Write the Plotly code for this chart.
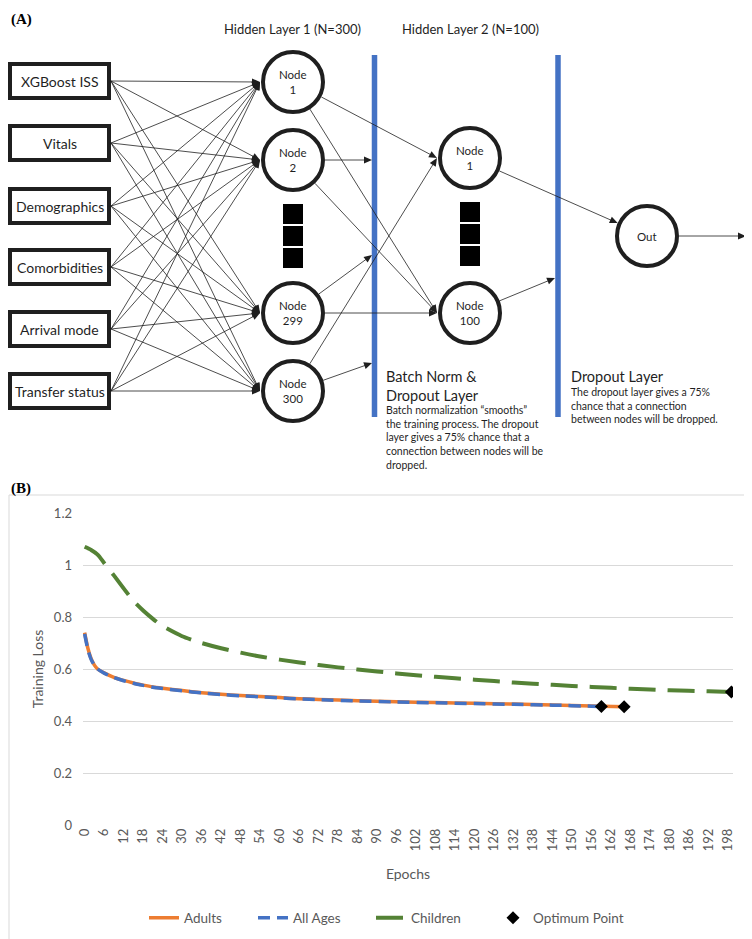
import math
import plotly.graph_objects as go

W, H = 752, 939
OFF = 8  # the page body has an 8px margin, so the figure is shifted by that much
FW, FH = W - OFF, H - OFF

# ---- panel B data ----
adult_epochs = [0, 1, 2, 3, 4, 6, 9, 12, 15, 18, 21, 24, 30, 36, 42, 48, 54, 60, 66, 72, 84, 96, 108, 120, 132, 144, 156, 166]
adult_loss = [0.74, 0.68, 0.64, 0.615, 0.60, 0.585, 0.568, 0.556, 0.546, 0.538, 0.531, 0.526, 0.517, 0.509,
              0.503, 0.498, 0.494, 0.490, 0.486, 0.483, 0.478, 0.474, 0.471, 0.468, 0.465, 0.462, 0.458, 0.455]

allages_epochs = [0, 1, 2, 3, 4, 6, 9, 12, 15, 18, 21, 24, 30, 36, 42, 48, 54, 60, 66, 72, 84, 96, 108, 120, 132, 144, 156, 159]
allages_loss = [0.735, 0.675, 0.637, 0.614, 0.60, 0.584, 0.567, 0.555, 0.545, 0.537, 0.530, 0.525, 0.516, 0.508,
                0.502, 0.497, 0.493, 0.489, 0.485, 0.482, 0.477, 0.473, 0.470, 0.467, 0.464, 0.461, 0.457, 0.456]

child_epochs = [0, 2, 4, 6, 9, 12, 15, 18, 21, 24, 30, 36, 42, 48, 54, 60, 72, 84, 96, 108, 120, 132, 144, 156, 168, 180, 192, 199]
child_loss = [1.07, 1.058, 1.04, 1.008, 0.96, 0.91, 0.862, 0.825, 0.793, 0.765, 0.726, 0.700, 0.680, 0.663,
              0.648, 0.636, 0.615, 0.598, 0.583, 0.570, 0.559, 0.548, 0.539, 0.531, 0.524, 0.518, 0.514, 0.512]

opt_epochs = [159, 166, 199]
opt_loss = [0.456, 0.455, 0.512]

x_ticks = list(range(0, 199, 6))
y_ticks = [0, 0.2, 0.4, 0.6, 0.8, 1.0, 1.2]

# ---- panel A diagram ----
input_labels = ["XGBoost ISS", "Vitals", "Demographics", "Comorbidities", "Arrival mode", "Transfer status"]
input_y = [81, 143, 206, 267, 329, 391]
h1_labels = ["1", "2", "299", "300"]
h1_y = [82, 160, 313, 391]
h2_labels = ["1", "100"]
h2_y = [158, 313]

H1_X, H2_X = 293, 470
OUT_X, OUT_Y = 647, 236
R = 30
BLUE = "#4472C4"
INK = "#1f1f1f"
GRAY = "#595959"
FONT = "Lato"

lines, circles, heads, others = [], [], [], []


def seg(x0, y0, x1, y1, w=0.8):
    lines.append(dict(type="line", xref="x2", yref="y2", x0=x0, y0=y0, x1=x1, y1=y1,
                      line=dict(color=INK, width=w)))


def arrow(x0, y0, x1, y1, L=8, Wd=7):
    d = math.hypot(x1 - x0, y1 - y0)
    ux, uy = (x1 - x0) / d, (y1 - y0) / d
    nx, ny = -uy, ux
    seg(x0, y0, x1 - ux * L * 0.6, y1 - uy * L * 0.6)
    bx, by = x1 - ux * L, y1 - uy * L
    p = "M {:.2f},{:.2f} L {:.2f},{:.2f} L {:.2f},{:.2f} Z".format(
        x1, y1, bx + nx * Wd / 2, by + ny * Wd / 2, bx - nx * Wd / 2, by - ny * Wd / 2)
    heads.append(dict(type="path", xref="x2", yref="y2", path=p, fillcolor=INK, line=dict(width=0)))


def edge(cx, cy, tx, ty, r=R + 2):
    d = math.hypot(tx - cx, ty - cy)
    return cx + (tx - cx) / d * r, cy + (ty - cy) / d * r


def circle(cx, cy, r=R):
    circles.append(dict(type="circle", xref="x2", yref="y2", x0=cx - r, x1=cx + r, y0=cy - r, y1=cy + r,
                        line=dict(color=INK, width=4), fillcolor="white"))


# inputs -> hidden layer 1
for iy in input_y:
    for hy in h1_y:
        arrow(111, iy, H1_X - R - 3, hy)

# hidden layer 1 -> hidden layer 2 / batch norm line
h1_links = [(0, ("h2", 0)), (0, ("h2", 1)), (1, ("bl", 160)), (1, ("h2", 1)),
            (2, ("bl", 255)), (2, ("h2", 1)), (3, ("bl", 363)), (3, ("h2", 0))]
for i, (kind, val) in h1_links:
    if kind == "h2":
        tx, ty = H2_X - R - 3, h2_y[val]
    else:
        tx, ty = 372, val
    sx, sy = edge(H1_X, h1_y[i], tx, ty)
    arrow(sx, sy, tx, ty)

# hidden layer 2 -> out / dropout line
sx, sy = edge(H2_X, h2_y[0], OUT_X, OUT_Y)
ex, ey = edge(OUT_X, OUT_Y, H2_X, h2_y[0])
arrow(sx, sy, ex, ey)
sx, sy = edge(H2_X, h2_y[1], 555, 278)
arrow(sx, sy, 555, 278)
arrow(OUT_X + R + 2, OUT_Y, 746, OUT_Y)

for hy in h1_y:
    circle(H1_X, hy)
for hy in h2_y:
    circle(H2_X, hy)
circle(OUT_X, OUT_Y)

for iy in input_y:
    others.append(dict(type="rect", xref="x2", yref="y2", x0=10, x1=109, y0=iy - 17, y1=iy + 17,
                       line=dict(color=INK, width=4), fillcolor="white"))

for cx, tops in [(H1_X, [204, 226, 248]), (H2_X, [202, 224, 246])]:
    for t in tops:
        others.append(dict(type="rect", xref="x2", yref="y2", x0=cx - 10, x1=cx + 10, y0=t, y1=t + 20,
                           fillcolor="black", line=dict(width=0)))

for bx, bw in [(374.5, 5.5), (558, 5.5)]:
    others.append(dict(type="line", xref="x2", yref="y2", x0=bx, x1=bx, y0=55, y1=417,
                       line=dict(color=BLUE, width=bw)))

# chart border for panel B
others.append(dict(type="rect", xref="x2", yref="y2", x0=9, x1=749, y0=495, y1=945,
                   line=dict(color="#d9d9d9", width=1), fillcolor="rgba(0,0,0,0)"))

shapes = others[:-1] + lines + circles + heads + [others[-1]]

ann = []


def text(x, y, s, size, color=INK, xanchor="center", yanchor="middle", align="center", family=FONT):
    ann.append(dict(xref="x2", yref="y2", x=x, y=y, text=s, showarrow=False, xanchor=xanchor,
                    yanchor=yanchor, align=align, font=dict(family=family, size=size, color=color)))


for lab, iy in zip(input_labels, input_y):
    text(59.5, iy, lab, 14)
for lab, hy in zip(h1_labels, h1_y):
    text(H1_X, hy, "Node<br>" + lab, 11.5)
for lab, hy in zip(h2_labels, h2_y):
    text(H2_X, hy, "Node<br>" + lab, 11.5)
text(OUT_X, OUT_Y, "Out", 11.5)
text(292, 29, "Hidden Layer 1 (N=300)", 13)
text(470, 29, "Hidden Layer 2 (N=100)", 13)
text(384, 366, "Batch Norm &amp;<br>Dropout Layer", 14.5, xanchor="left", yanchor="top", align="left")
text(384, 402, "Batch normalization “smooths”<br>the training process. The dropout<br>"
     "layer gives a 75% chance that a<br>connection between nodes will be<br>dropped.",
     10.5, xanchor="left", yanchor="top", align="left")
text(569, 366, "Dropout Layer", 14.5, xanchor="left", yanchor="top", align="left")
text(569, 384, "The dropout layer gives a 75%<br>chance that a connection<br>between nodes will be dropped.",
     10.5, xanchor="left", yanchor="top", align="left")
text(8.5, 8.5, "<b>(A)</b>", 15, color="black", xanchor="left", yanchor="top", family="Liberation Serif")
text(8.5, 488, "<b>(B)</b>", 15, color="black", xanchor="left", family="Liberation Serif")

fig = go.Figure()

fig.add_trace(go.Scatter(x=adult_epochs, y=adult_loss, name="Adults", mode="lines", legend="legend",
                         line=dict(color="#ED7D31", width=3.5, shape="spline", smoothing=0.6)))
fig.add_trace(go.Scatter(x=allages_epochs, y=allages_loss, name="All Ages", mode="lines", legend="legend2",
                         line=dict(color=BLUE, width=3.5, dash="12px,7px", shape="spline", smoothing=0.6)))
fig.add_trace(go.Scatter(x=child_epochs, y=child_loss, name="Children", mode="lines", legend="legend3",
                         line=dict(color="#548235", width=4, dash="27px,12px", shape="spline", smoothing=0.6)))
fig.add_trace(go.Scatter(x=opt_epochs, y=opt_loss, name="Optimum Point", mode="markers", legend="legend4",
                         marker=dict(symbol="diamond", color="black", size=10)))
fig.add_trace(go.Scatter(x=[20], y=[20], xaxis="x2", yaxis="y2", mode="markers",
                         marker=dict(opacity=0), showlegend=False, hoverinfo="skip"))


def px_x(p):
    return (p - OFF) / FW


def px_y(p):
    return 1 - (p - OFF) / FH


def leg(text_start):
    return dict(orientation="h", x=px_x(text_start - 40), xanchor="left", y=px_y(918), yanchor="middle",
                font=dict(size=13.5, color=GRAY), bgcolor="rgba(0,0,0,0)")


fig.update_layout(
    width=FW, height=FH,
    margin=dict(l=0, r=0, t=0, b=0, autoexpand=False),
    paper_bgcolor="white", plot_bgcolor="rgba(0,0,0,0)",
    font=dict(family=FONT, color=GRAY),
    xaxis=dict(domain=[px_x(83), px_x(733)], range=[-0.5, 199.5], tickvals=x_ticks, tickangle=-90,
               showgrid=False, zeroline=False, showline=False, ticks="",
               tickfont=dict(size=13, color=GRAY),
               title=dict(text="Epochs", font=dict(size=14, color=GRAY), standoff=18)),
    yaxis=dict(domain=[px_y(825), px_y(513)], range=[0, 1.2], tickvals=y_ticks,
               gridcolor="#d9d9d9", gridwidth=1, zeroline=False, showline=False, ticks="",
               ticklabelstandoff=10, tickfont=dict(size=13, color=GRAY),
               title=dict(text="Training Loss", font=dict(size=14, color=GRAY), standoff=6)),
    xaxis2=dict(domain=[0, 1], range=[OFF, W], visible=False, anchor="y2", fixedrange=True),
    yaxis2=dict(domain=[0, 1], range=[H, OFF], visible=False, anchor="x2", fixedrange=True),
    legend=leg(184),
    legend2=leg(293),
    legend3=leg(411),
    legend4=leg(533),
    shapes=shapes,
    annotations=ann,
    showlegend=True,
)

fig.write_html("out.html")
